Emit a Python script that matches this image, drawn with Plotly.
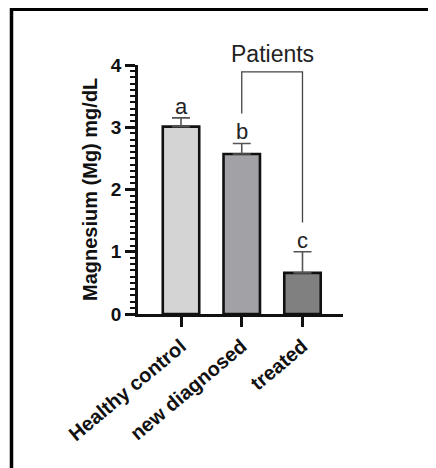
import plotly.graph_objects as go

categories = ["Healthy control", "new diagnosed", "treated"]
means = [3.01, 2.57, 0.66]
errors = [0.14, 0.17, 0.34]
letters = ["a", "b", "c"]
bar_colors = ["#d4d4d4", "#a2a2a6", "#808080"]
y_ticks = [0, 1, 2, 3, 4]

W, H = 436, 468
OFF = 8  # page body margin
FONT = "Liberation Sans, Arial, sans-serif"

def px_x(p):
    return (p - OFF) / W

def px_y(p):
    return 1 - (p - OFF) / H

fig = go.Figure()
fig.add_trace(go.Bar(
    x=list(range(len(categories))),
    y=means,
    width=0.6,
    marker=dict(color=bar_colors, line=dict(color="#111111", width=2.6)),
    error_y=dict(type="data", array=errors, arrayminus=[0] * len(errors),
                 symmetric=False, color="#555555", thickness=1.6, width=9),
    showlegend=False,
))

annotations = []
for i, (m, e, l) in enumerate(zip(means, errors, letters)):
    annotations.append(dict(x=i, y=m + e, xref="x", yref="y", text=l,
                            showarrow=False, yanchor="bottom", yshift=-3,
                            font=dict(family=FONT, size=22, color="#222222")))
annotations.append(dict(x=1.5, y=px_y(54), xref="x", yref="paper", text="Patients",
                        showarrow=False, yanchor="middle",
                        font=dict(family=FONT, size=23, color="#222222")))
annotations.append(dict(x=px_x(90), y=px_y(190), xref="paper", yref="paper",
                        text="<b>Magnesium (Mg) mg/dL</b>", textangle=-90,
                        showarrow=False, xanchor="center", yanchor="middle",
                        font=dict(family=FONT, size=20, color="#111111")))

shapes = [
    # bracket for Patients
    dict(type="path", xref="x", yref="y",
         path="M 1,3.22 L 1,3.89 L 2,3.89 L 2,1.47",
         line=dict(color="#444444", width=1.3)),
    # outer frame (top and left)
    dict(type="line", xref="paper", yref="paper", x0=px_x(10), x1=1,
         y0=px_y(9), y1=px_y(9), line=dict(color="black", width=4)),
    dict(type="line", xref="paper", yref="paper", x0=px_x(11.5), x1=px_x(11.5),
         y0=px_y(7), y1=0, line=dict(color="black", width=3.5)),
]

fig.update_layout(
    width=W, height=H,
    margin=dict(l=0, r=0, t=0, b=0),
    paper_bgcolor="white", plot_bgcolor="white",
    annotations=annotations, shapes=shapes,
    xaxis=dict(
        domain=[px_x(138), px_x(343)],
        range=[-0.708, 2.667],
        tickmode="array", tickvals=list(range(len(categories))),
        ticktext=["<b>%s</b>" % c for c in categories],
        tickangle=-40,
        ticks="outside", ticklen=10, tickwidth=2.5, tickcolor="#111111",
        showline=True, linewidth=2.6, linecolor="#111111",
        showgrid=False, zeroline=False, automargin=False,
        tickfont=dict(family=FONT, size=20, color="#111111"),
    ),
    yaxis=dict(
        domain=[px_y(314), px_y(65)],
        range=[0, 4],
        tickmode="array", tickvals=y_ticks,
        ticktext=["<b>%d</b>" % v for v in y_ticks],
        ticks="outside", ticklen=10, tickwidth=2.5, tickcolor="#111111",
        minor=dict(dtick=0.1, ticks="outside", ticklen=5, tickwidth=2,
                   tickcolor="#111111", showgrid=False),
        showline=True, linewidth=2.6, linecolor="#111111",
        showgrid=False, zeroline=False, automargin=False,
        tickfont=dict(family=FONT, size=19, color="#111111"),
    ),
)

fig.write_html("out.html")
